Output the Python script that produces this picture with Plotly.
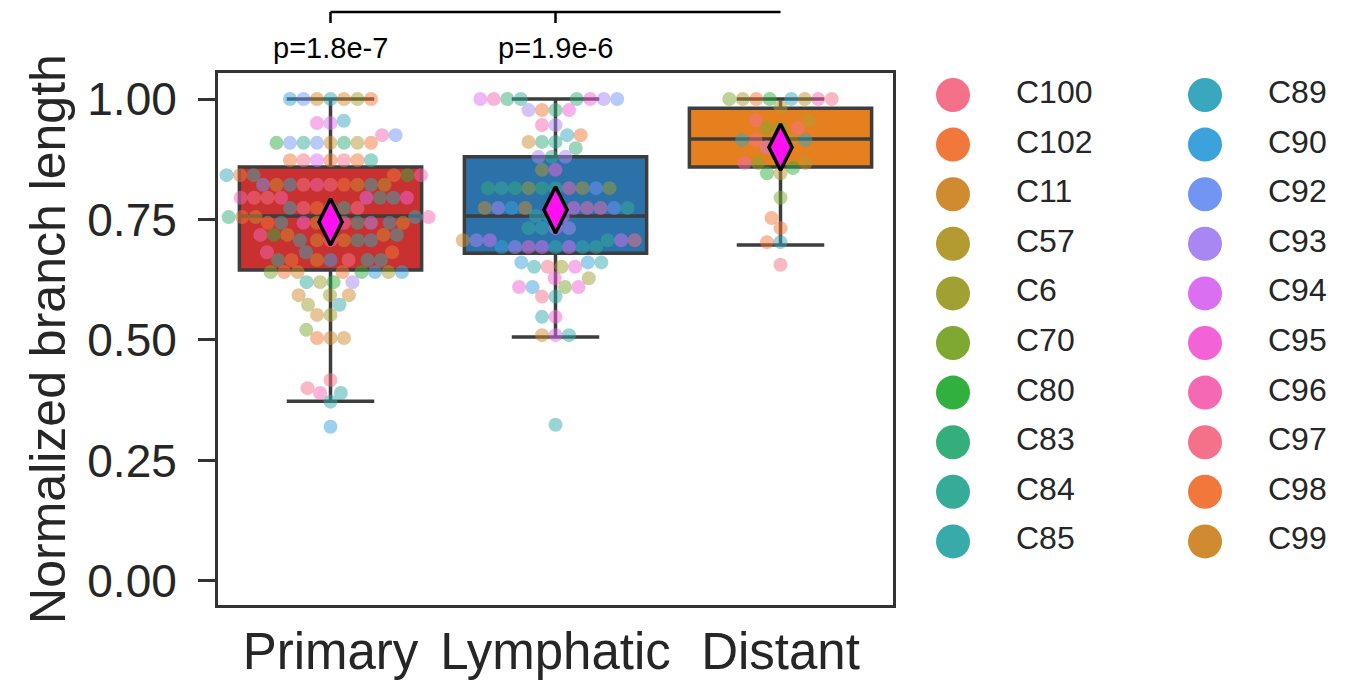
import math
import numpy as np
import plotly.graph_objects as go

# ---------------- data ----------------
groups = ["Primary", "Lymphatic", "Distant"]
box_colors = ["#c8312f", "#2b72aa", "#e6801f"]

q1 = [0.645, 0.680, 0.859]
median = [0.757, 0.757, 0.917]
q3 = [0.859, 0.880, 0.981]
lower_whisker = [0.373, 0.506, 0.697]
upper_whisker = [1.0, 1.0, 1.0]
group_means = [0.745, 0.770, 0.900]

patients = ["C100", "C102", "C11", "C57", "C6", "C70", "C80", "C83", "C84", "C85",
            "C89", "C90", "C92", "C93", "C94", "C95", "C96", "C97", "C98", "C99"]
patient_colors = ["#f5718a", "#f2773a", "#d08b30", "#b39a31", "#a1a032", "#7ea831",
                  "#32b03f", "#34ae7b", "#36ac98", "#37aaa9", "#39a7bd", "#3ca2dc",
                  "#7295f3", "#a987f3", "#db6ff2", "#f363d7", "#f469b1", "#f5718a",
                  "#f2773a", "#d08b30"]

primary_values = [
    1.00, 1.00, 1.00, 1.00, 1.00, 1.00, 1.00,
    0.955, 0.950, 0.950, 0.925, 0.925,
    0.909, 0.909, 0.909, 0.909, 0.909, 0.909, 0.909, 0.909,
    0.873, 0.873, 0.873, 0.873, 0.873, 0.873, 0.873,
    0.842, 0.842, 0.842, 0.842, 0.842, 0.842,
    0.822, 0.822, 0.822, 0.822, 0.822, 0.822, 0.822, 0.822, 0.822, 0.822,
    0.795, 0.795, 0.795, 0.795, 0.795, 0.795, 0.795, 0.795,
    0.774, 0.774, 0.774, 0.774, 0.774, 0.774,
    0.755, 0.755, 0.755, 0.755, 0.755,
    0.743, 0.743, 0.743, 0.743, 0.743, 0.743, 0.743, 0.743, 0.743, 0.743,
    0.718, 0.718, 0.718, 0.718, 0.718,
    0.707, 0.707, 0.707, 0.707, 0.707, 0.707,
    0.682, 0.682, 0.682,
    0.666, 0.666, 0.666, 0.666, 0.666, 0.666, 0.666,
    0.641, 0.641, 0.641, 0.641, 0.641, 0.641, 0.641, 0.641,
    0.620, 0.620, 0.620, 0.620,
    0.593, 0.593, 0.593,
    0.573, 0.573,
    0.552, 0.552,
    0.521,
    0.504, 0.504, 0.504,
    0.417, 0.400, 0.390, 0.390, 0.372, 0.320,
]
primary_patients = [
    "C85", "C11", "C99", "C92", "C6", "C90", "C102",
    "C89", "C94", "C95", "C96", "C92",
    "C11", "C92", "C83", "C84", "C57", "C92", "C102", "C80",
    "C102", "C94", "C97", "C100", "C102", "C98", "C84",
    "C98", "C85", "C80", "C102", "C96", "C89",
    "C100", "C96", "C102", "C97", "C11", "C89", "C85", "C99", "C57", "C92",
    "C94", "C96", "C84", "C100", "C89", "C97", "C95", "C96",
    "C85", "C102", "C84", "C97", "C100", "C89",
    "C11", "C89", "C98", "C96", "C83",
    "C102", "C11", "C96", "C95", "C84", "C93", "C85", "C89", "C98", "C99",
    "C99", "C11", "C80", "C85", "C96",
    "C96", "C11", "C99", "C84", "C85", "C89",
    "C89", "C102", "C96",
    "C90", "C11", "C97", "C85", "C102", "C85", "C84",
    "C102", "C80", "C11", "C90", "C102", "C6", "C70", "C90",
    "C80", "C6", "C93", "C84",
    "C6", "C11", "C99",
    "C85", "C6",
    "C6", "C99",
    "C70",
    "C11", "C102", "C99",
    "C97", "C100", "C96", "C85", "C85", "C90",
]

lymphatic_values = [
    1.00, 1.00, 1.00, 1.00, 1.00, 1.00, 1.00, 1.00,
    0.977, 0.977, 0.977, 0.977,
    0.946, 0.946, 0.925, 0.925,
    0.911, 0.911, 0.911, 0.898,
    0.880, 0.880, 0.880, 0.853, 0.853,
    0.815, 0.815, 0.815, 0.815, 0.815, 0.815, 0.815, 0.815, 0.815, 0.815,
    0.774, 0.774, 0.774, 0.774, 0.774, 0.774, 0.774, 0.774, 0.774,
    0.757, 0.757, 0.757,
    0.732, 0.732, 0.732, 0.732,
    0.707, 0.707, 0.707, 0.707, 0.707, 0.707,
    0.693, 0.693, 0.693, 0.693, 0.693, 0.693, 0.693, 0.693,
    0.661, 0.661, 0.661,
    0.652, 0.652, 0.652, 0.652,
    0.628, 0.628,
    0.610, 0.610, 0.610, 0.610,
    0.590, 0.590,
    0.548, 0.548,
    0.510, 0.510, 0.510,
    0.324,
]
lymphatic_patients = [
    "C83", "C84", "C95", "C83", "C93", "C96", "C92", "C94",
    "C83", "C102", "C95", "C93",
    "C93", "C96", "C89", "C98",
    "C84", "C83", "C11", "C83",
    "C84", "C93", "C93", "C95", "C57",
    "C84", "C83", "C96", "C6", "C57", "C83", "C92", "C84", "C6", "C83",
    "C95", "C11", "C96", "C90", "C96", "C93", "C92", "C11", "C84",
    "C89", "C94", "C85",
    "C94", "C85", "C93", "C84",
    "C84", "C94", "C94", "C93", "C97", "C99",
    "C85", "C94", "C94", "C95", "C85", "C93", "C84", "C90",
    "C90", "C90", "C85",
    "C6", "C97", "C95", "C85",
    "C95", "C6",
    "C70", "C90", "C95", "C95",
    "C85", "C97",
    "C95", "C85",
    "C94", "C11", "C85",
    "C85",
]

distant_values = [
    1.00, 1.00, 1.00, 1.00, 1.00, 1.00, 1.00, 1.00,
    0.983, 0.956, 0.956,
    0.940, 0.940, 0.940,
    0.915, 0.915, 0.915, 0.915,
    0.900, 0.900,
    0.867, 0.867, 0.867, 0.857, 0.846, 0.846,
    0.795, 0.753, 0.732, 0.703, 0.703, 0.656,
]
distant_patients = [
    "C80", "C89", "C102", "C57", "C57", "C96", "C70", "C100",
    "C57", "C97", "C57",
    "C70", "C70", "C100",
    "C57", "C97", "C89", "C89",
    "C95", "C94",
    "C70", "C57", "C96", "C80", "C57", "C80",
    "C70", "C102", "C98", "C89", "C98", "C100",
]

p_labels = ["p=1.8e-7", "p=1.9e-6"]

# ---------------- geometry ----------------
W, H = 1350, 690
M_L, M_T, M_B = 218, 73, 85
PLOT_W = 675
PLOT_H = H - M_T - M_B
Y_RANGE = [-0.05, 1.054]
X_RANGE = [-0.5, 2.5]
px_per_y = PLOT_H / (Y_RANGE[1] - Y_RANGE[0])
px_per_x = PLOT_W / (X_RANGE[1] - X_RANGE[0])
DOT = 13.5  # swarm spacing in px


def swarm_offsets(values, d=DOT):
    ys = np.asarray(values, dtype=float) * px_per_y
    order = np.argsort(ys, kind="stable")
    placed = []
    xs = np.zeros(len(ys))
    for i in order:
        y = ys[i]
        neigh = [(px, py) for px, py in placed if abs(py - y) < d]
        cands = [0.0]
        for px, py in neigh:
            dx = math.sqrt(max(d * d - (py - y) ** 2, 0.0))
            cands += [px - dx, px + dx]
        cands = sorted(cands, key=lambda c: (abs(c), c))
        chosen = cands[-1]
        for c in cands:
            if all((c - px) ** 2 + (y - py) ** 2 >= d * d - 1e-6 for px, py in neigh):
                chosen = c
                break
        xs[i] = chosen
        placed.append((chosen, y))
    return xs / px_per_x


color_of = dict(zip(patients, patient_colors))
group_vals = [primary_values, lymphatic_values, distant_values]
group_pats = [primary_patients, lymphatic_patients, distant_patients]

fig = go.Figure()

EDGE = "#3d3d3d"
for i, g in enumerate(groups):
    fig.add_trace(go.Box(
        x=[i], q1=[q1[i]], median=[median[i]], q3=[q3[i]],
        lowerfence=[lower_whisker[i]], upperfence=[upper_whisker[i]],
        name=g, width=0.81, whiskerwidth=0.48,
        fillcolor=box_colors[i], line=dict(color=EDGE, width=3.5),
        boxpoints=False, showlegend=False, hoverinfo="skip",
        xaxis="x", yaxis="y",
    ))

for i, g in enumerate(groups):
    offs = swarm_offsets(group_vals[i])
    fig.add_trace(go.Scatter(
        x=i + offs, y=group_vals[i], mode="markers",
        marker=dict(size=14, color=[color_of[p] for p in group_pats[i]],
                    opacity=0.5, line=dict(width=0)),
        text=group_pats[i], showlegend=False, name=g,
        xaxis="x", yaxis="y",
    ))

fig.add_trace(go.Scatter(
    x=list(range(len(groups))), y=group_means, mode="markers",
    marker=dict(symbol="diamond-tall", size=33, color="#ff10f0",
                line=dict(color="black", width=3.5)),
    showlegend=False, name="mean", xaxis="x", yaxis="y",
))

# ---------------- custom legend (two columns) ----------------
LEG_X0, LEG_DX, LEG_GAP = 953, 252, 63
LEG_Y0, LEG_DY = 95, 49.6
n_rows = 10
leg_x = [LEG_X0 + (k // n_rows) * LEG_DX for k in range(len(patients))]
leg_y = [LEG_Y0 + (k % n_rows) * LEG_DY for k in range(len(patients))]
fig.add_trace(go.Scatter(
    x=leg_x, y=leg_y, mode="markers",
    marker=dict(size=34, color=patient_colors, line=dict(width=0)),
    showlegend=False, hoverinfo="skip", xaxis="x2", yaxis="y2",
))
fig.add_trace(go.Scatter(
    x=[v + LEG_GAP for v in leg_x], y=leg_y, mode="text", text=patients,
    textposition="middle right",
    textfont=dict(size=32, color="#262626", family="Liberation Sans, Arial"),
    showlegend=False, hoverinfo="skip", xaxis="x2", yaxis="y2", cliponaxis=False,
))

full_w = W - M_L
dom_main = PLOT_W / full_w
dom_leg0 = (920 - M_L) / full_w

fig.update_layout(
    width=W, height=H,
    margin=dict(l=M_L, r=0, t=M_T, b=M_B, pad=0),
    paper_bgcolor="white", plot_bgcolor="white",
    font=dict(family="Liberation Sans, Arial", color="#262626"),
    xaxis=dict(domain=[0, dom_main], range=X_RANGE, tickmode="array",
               tickvals=list(range(len(groups))), ticktext=groups,
               tickfont=dict(size=51, color="#262626"), ticks="",
               showline=True, linecolor="#333333", linewidth=3, mirror=True,
               showgrid=False, zeroline=False, anchor="y"),
    yaxis=dict(range=Y_RANGE, tickmode="array",
               tickvals=[0, 0.25, 0.5, 0.75, 1.0], tickformat=".2f",
               tickfont=dict(size=46, color="#262626"),
               ticks="outside", ticklen=17, tickwidth=2.5, tickcolor="#333333",
               ticklabelstandoff=12,
               showline=True, linecolor="#333333", linewidth=3, mirror=True,
               showgrid=False, zeroline=False, anchor="x",
               title=dict(text="Normalized branch length",
                          font=dict(size=50, color="#262626"), standoff=6)),
    xaxis2=dict(domain=[dom_leg0, 1], range=[920, 1350], visible=False,
                anchor="y2", fixedrange=True),
    yaxis2=dict(domain=[0, 1], range=[H - M_B, M_T], visible=False,
                anchor="x2", fixedrange=True),
    showlegend=False,
)

# significance bracket
yb = (H - M_B - 12) / PLOT_H
yt = (H - M_B - 23) / PLOT_H
line_style = dict(color="black", width=2.5)
fig.add_shape(type="line", xref="x", yref="paper", x0=0, x1=2, y0=yb, y1=yb, line=line_style)
fig.add_shape(type="line", xref="x", yref="paper", x0=0, x1=0, y0=yb, y1=yt, line=line_style)
fig.add_shape(type="line", xref="x", yref="paper", x0=1, x1=1, y0=yb, y1=yt, line=line_style)
for i, lab in enumerate(p_labels):
    fig.add_annotation(x=i, xref="x", y=(H - M_B - 48) / PLOT_H, yref="paper",
                       yanchor="middle", text=lab, showarrow=False,
                       font=dict(size=29, color="black", family="Liberation Sans, Arial"))

fig.write_html("out.html", config={"displayModeBar": False},
               post_script="document.body.style.margin='0';")
